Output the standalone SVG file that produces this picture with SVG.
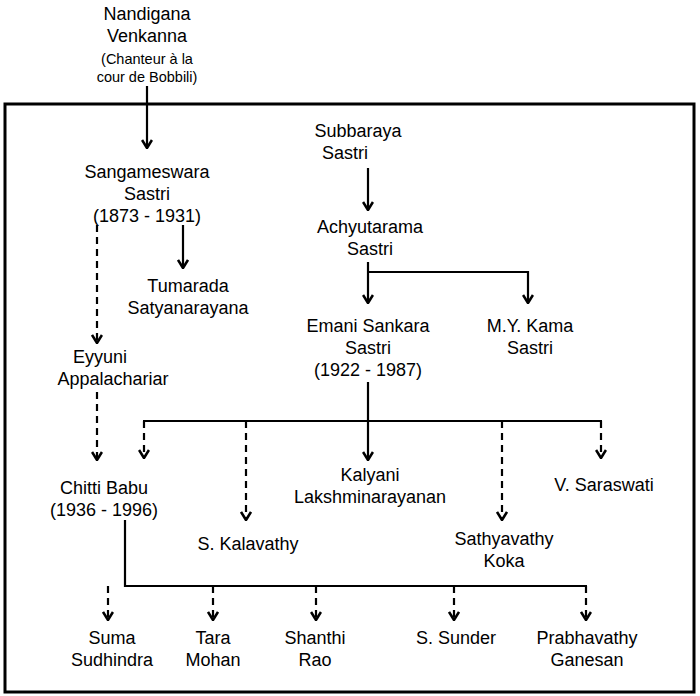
<svg xmlns="http://www.w3.org/2000/svg" width="700" height="696" viewBox="0 0 700 696">
<style>
text{font-family:"Liberation Sans",Arial,sans-serif;font-size:18px;fill:#000;text-anchor:middle}
.s{font-size:14.5px}
.c line,.c polyline{stroke:#000;stroke-width:2.2;fill:none}
.d{stroke-dasharray:7,5}
</style>
<defs>
<marker id="a" viewBox="0 0 12 12" refX="11" refY="6" markerWidth="12" markerHeight="12" markerUnits="userSpaceOnUse" orient="auto">
<polyline points="3,1 11,6 3,11" fill="none" stroke="#000" stroke-width="2.6"/>
</marker>
</defs>
<rect x="5" y="104" width="689" height="588" fill="none" stroke="#000" stroke-width="3"/>
<g class="c">
<line x1="147" y1="86" x2="147" y2="148" marker-end="url(#a)"/>
<line x1="183" y1="225" x2="183" y2="268" marker-end="url(#a)"/>
<line class="d" x1="97" y1="225" x2="97" y2="343" marker-end="url(#a)"/>
<line class="d" x1="97" y1="392" x2="97" y2="460" marker-end="url(#a)"/>
<line x1="368" y1="168" x2="368" y2="210" marker-end="url(#a)"/>
<line x1="368" y1="262" x2="368" y2="303" marker-end="url(#a)"/>
<polyline points="368,272 528,272 528,303" marker-end="url(#a)"/>
<line x1="368" y1="382" x2="368" y2="460" marker-end="url(#a)"/>
<line x1="143" y1="421" x2="602" y2="421"/>
<line class="d" x1="144" y1="421" x2="144" y2="458" marker-end="url(#a)"/>
<line class="d" x1="246" y1="421" x2="246" y2="520" marker-end="url(#a)"/>
<line class="d" x1="502" y1="421" x2="502" y2="520" marker-end="url(#a)"/>
<line class="d" x1="601" y1="421" x2="601" y2="458" marker-end="url(#a)"/>
<polyline points="125,520 125,586 587,586"/>
<line class="d" x1="108" y1="586" x2="108" y2="620" marker-end="url(#a)"/>
<line class="d" x1="213" y1="586" x2="213" y2="620" marker-end="url(#a)"/>
<line class="d" x1="316" y1="586" x2="316" y2="620" marker-end="url(#a)"/>
<line class="d" x1="454" y1="586" x2="454" y2="620" marker-end="url(#a)"/>
<line class="d" x1="586" y1="586" x2="586" y2="620" marker-end="url(#a)"/>
</g>
<g id="nandigana"><text x="147" y="20">Nandigana</text><text x="147" y="42">Venkanna</text><text class="s" x="147" y="64">(Chanteur à la</text><text class="s" x="147" y="82">cour de Bobbili)</text></g>
<g id="sangameswara"><text x="147" y="178">Sangameswara</text><text x="147" y="200">Sastri</text><text x="147" y="222">(1873 - 1931)</text></g>
<g id="tumarada"><text x="188" y="292">Tumarada</text><text x="188" y="314">Satyanarayana</text></g>
<g id="eyyuni"><text x="100" y="363">Eyyuni</text><text x="113" y="385">Appalachariar</text></g>
<g id="chitti"><text x="104" y="494">Chitti Babu</text><text x="104" y="516">(1936 - 1996)</text></g>
<g id="subbaraya"><text x="358" y="137">Subbaraya</text><text x="345" y="159">Sastri</text></g>
<g id="achyutarama"><text x="370" y="233">Achyutarama</text><text x="370" y="255">Sastri</text></g>
<g id="emani"><text x="368" y="332">Emani Sankara</text><text x="368" y="354">Sastri</text><text x="368" y="376">(1922 - 1987)</text></g>
<g id="kama"><text x="530" y="332">M.Y. Kama</text><text x="530" y="354">Sastri</text></g>
<g id="kalyani"><text x="370" y="481">Kalyani</text><text x="370" y="503">Lakshminarayanan</text></g>
<g id="kalavathy"><text x="248" y="550">S. Kalavathy</text></g>
<g id="sathyavathy"><text x="504" y="545">Sathyavathy</text><text x="504" y="567">Koka</text></g>
<g id="saraswati"><text x="604" y="491">V. Saraswati</text></g>
<g id="suma"><text x="112" y="644">Suma</text><text x="112" y="666">Sudhindra</text></g>
<g id="tara"><text x="213" y="644">Tara</text><text x="213" y="666">Mohan</text></g>
<g id="shanthi"><text x="315" y="644">Shanthi</text><text x="315" y="666">Rao</text></g>
<g id="sunder"><text x="456" y="644">S. Sunder</text></g>
<g id="prabhavathy"><text x="587" y="644">Prabhavathy</text><text x="587" y="666">Ganesan</text></g>
</svg>
